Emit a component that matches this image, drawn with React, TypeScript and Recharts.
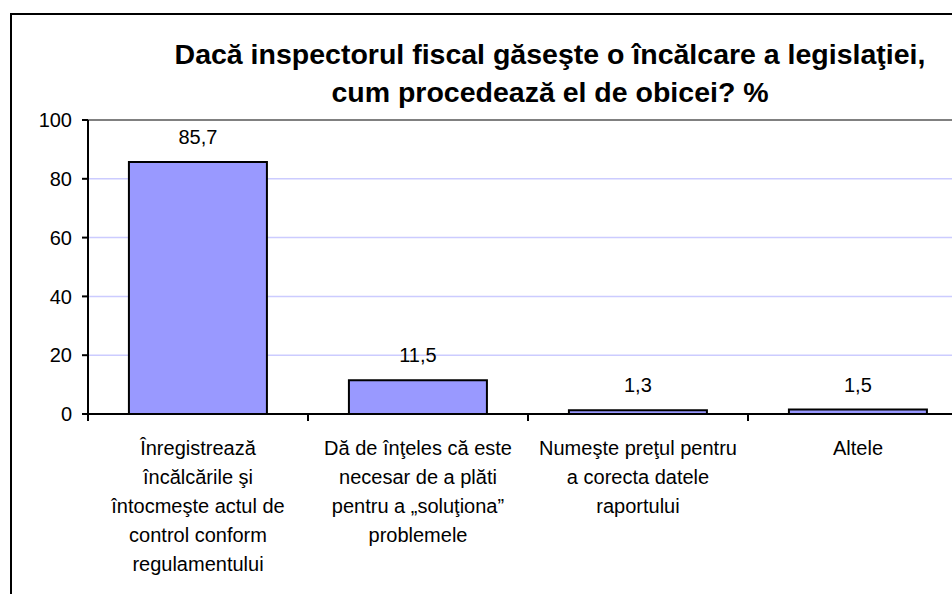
import React from "react"
import {
    Bar,
    BarChart,
    XAxis,
    YAxis,
    CartesianGrid,
    ReferenceLine,
    LabelList
} from "recharts"

const titleLines = [
    "Dacă inspectorul fiscal găseşte o încălcare a legislaţiei,",
    "cum procedează el de obicei? %"
]

const categoryLines = [
    ["Înregistrează", "încălcările şi", "întocmeşte actul de", "control conform", "regulamentului"],
    ["Dă de înţeles că este", "necesar de a plăti", "pentru a „soluţiona”", "problemele"],
    ["Numeşte preţul pentru", "a corecta datele", "raportului"],
    ["Altele"]
]

const values = [85.7, 11.5, 1.3, 1.5]

const yTicks = [0, 20, 40, 60, 80, 100]

const data = categoryLines.map((lines, i) => ({ name: lines.join(" "), value: values[i] }))

const FONT = '"Liberation Sans", Arial, sans-serif'
const CHART_W = 980
const CHART_H = 594
const Y_AXIS_W = 88
const RIGHT = 12
// width of one category band, used for the tick marks between categories
const BAND = (CHART_W - Y_AXIS_W - RIGHT) / categoryLines.length

function CategoryTick(props: any) {
    const { x, y, index } = props
    const lines = categoryLines[index] || []
    return (
        <g>
            <line x1={x - BAND / 2} x2={x - BAND / 2} y1={y} y2={y + 7} stroke="#000" strokeWidth={2} />
            {index === categoryLines.length - 1 && (
                <line x1={x + BAND / 2} x2={x + BAND / 2} y1={y} y2={y + 7} stroke="#000" strokeWidth={2} />
            )}
            <text x={x} y={y + 41} textAnchor="middle" fontFamily={FONT} fontSize={20} fill="#000">
                {lines.map((line, i) => (
                    <tspan key={i} x={x} dy={i === 0 ? 0 : 29}>{line}</tspan>
                ))}
            </text>
        </g>
    )
}

export default function App() {
    return (
        <div style={{ position: "absolute", left: 0, top: 0, width: 952, height: 594, overflow: "hidden", background: "#fff" }}>
            <div style={{ position: "absolute", left: 10, top: 13, width: 1000, height: 700, border: "2px solid #000", boxSizing: "border-box" }} />
            <div style={{ position: "absolute", left: 0, top: 0 }}>
                <BarChart
                    width={CHART_W}
                    height={CHART_H}
                    data={data}
                    barCategoryGap="18.6%"
                    margin={{ top: 120, right: RIGHT, bottom: 0, left: 0 }}
                >
                    <CartesianGrid vertical={false} stroke="#ccccff" strokeWidth={1.5} />
                    <ReferenceLine y={100} stroke="#808080" strokeWidth={2} />
                    <XAxis
                        dataKey="name"
                        height={CHART_H - 414}
                        tickSize={0}
                        tickMargin={0}
                        tickLine={false}
                        axisLine={{ stroke: "#000", strokeWidth: 2 }}
                        tick={<CategoryTick />}
                        interval={0}
                    />
                    <YAxis
                        width={Y_AXIS_W}
                        domain={[0, 100]}
                        ticks={yTicks}
                        interval={0}
                        tickSize={6}
                        tickMargin={10}
                        axisLine={{ stroke: "#000", strokeWidth: 2 }}
                        tickLine={{ stroke: "#000", strokeWidth: 2 }}
                        tick={{ fill: "#000", fontSize: 20, fontFamily: FONT }}
                    />
                    <Bar dataKey="value" fill="#9999ff" stroke="#000" strokeWidth={2} isAnimationActive={false}>
                        <LabelList
                            dataKey="value"
                            position="top"
                            offset={18}
                            formatter={(v: any) => String(v).replace(".", ",")}
                            style={{ fill: "#000", fontSize: 20, fontFamily: FONT }}
                        />
                    </Bar>
                </BarChart>
            </div>
            <div style={{ position: "absolute", left: 150, top: 35, width: 800, textAlign: "center", fontFamily: FONT, fontWeight: "bold", fontSize: 28.5, lineHeight: "38px", color: "#000" }}>
                {titleLines.map((line, i) => (
                    <div key={i}>{line}</div>
                ))}
            </div>
        </div>
    )
}
